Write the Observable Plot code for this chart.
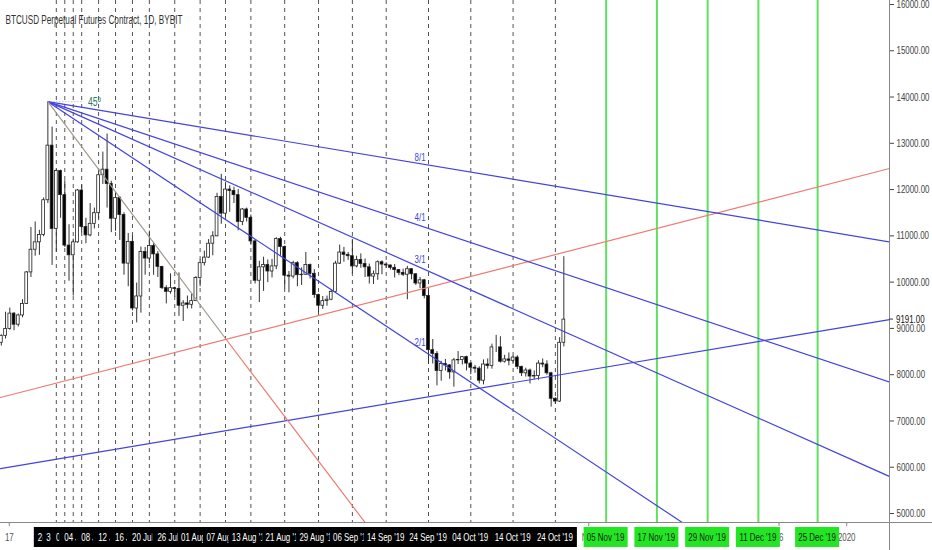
<!DOCTYPE html>
<html>
<head>
<meta charset="utf-8">
<script src="https://cdn.jsdelivr.net/npm/d3@7"></script>
<script src="https://cdn.jsdelivr.net/npm/@observablehq/plot@0.6"></script>
<style>
  body { margin: 0; background: #fff; }
  #chart svg { display: block; }
</style>
</head>
<body>
<div id="chart"></div>
<script>
const title = "BTCUSD Perpetual Futures Contract, 1D, BYBIT"
const firstDay = "2019-06-15"

// daily candles, 15 Jun -> 26 Oct 2019 (one row per month)
const opens = [
  8690, 8840, 8990, 9320, 9080, 9280, 9530, 10210, 10700, 10860, 11020, 11770, 12950, 11150, 12400, 11880,
  10790, 10580, 10860, 11980, 11190, 11010, 11260, 11490, 12310, 12430, 12120, 11370, 11820, 11450, 10400, 10870, 9430, 9690, 10650, 10510, 10780, 10600, 10330, 9870, 9790, 9870, 9850, 9490, 9540, 9510, 9590,
  10090, 10410, 10530, 10830, 10990, 11840, 11480, 12000, 11970, 11880, 11300, 11570, 11390, 10880, 10030, 10320, 10370, 10230, 10340, 10930, 10760, 10140, 10120, 10410, 10150, 10160, 10370, 10180, 9720, 9490, 9590,
  9620, 9790, 10400, 10640, 10590, 10560, 10340, 10480, 10390, 10320, 10120, 10170, 10430, 10380, 10360, 10310, 10260, 10200, 10160, 10280, 10170, 9970, 10040, 9700, 8530, 8450, 8080, 8230, 8200, 8050,
  8310, 8320, 8380, 8240, 8150, 8130, 7870, 8220, 8190, 8590, 8590, 8280, 8330, 8300, 8370, 8170, 8030, 8090, 7960, 7970, 8240, 8220, 8030, 7480, 7420, 8690
]
const highs = [
  8860, 9350, 9440, 9340, 9310, 9620, 10230, 11180, 11300, 11120, 11820, 13880, 13350, 12440, 12420, 12190,
  11240, 10930, 12000, 12100, 11380, 11700, 11600, 12380, 12810, 13200, 12180, 11930, 11850, 11500, 11050, 11000, 9980, 10760, 10750, 11100, 10840, 10660, 10340, 9920, 10180, 9890, 10200, 9600, 9700, 9750, 10120,
  10480, 10670, 10920, 11090, 11920, 12330, 12150, 12080, 12050, 12000, 11590, 11600, 11450, 10910, 10450, 10540, 10480, 10490, 10960, 10970, 10780, 10230, 10450, 10440, 10310, 10640, 10390, 10270, 9740, 9690, 9700,
  9840, 10450, 10800, 10750, 10640, 10920, 10560, 10610, 10500, 10390, 10240, 10460, 10460, 10420, 10370, 10380, 10270, 10280, 10340, 10290, 10180, 10100, 10060, 9810, 8760, 8500, 8290, 8330, 8220, 8350,
  8500, 8390, 8400, 8260, 8200, 8170, 8320, 8340, 8660, 8850, 8820, 8420, 8470, 8400, 8410, 8180, 8140, 8120, 8080, 8300, 8340, 8300, 8050, 7500, 8800, 10550
]
const lows = [
  8620, 8770, 8960, 8950, 9030, 9230, 9520, 10100, 10560, 10580, 10980, 11700, 10360, 10650, 11380, 10750,
  10020, 9700, 10840, 11070, 10830, 10980, 11150, 11360, 12110, 11600, 11070, 11100, 10900, 10150, 9900, 9380, 9120, 9330, 10150, 10400, 10150, 10100, 9840, 9530, 9740, 9670, 9260, 9150, 9420, 9420, 9580,
  9900, 10350, 10510, 10570, 10980, 11250, 11400, 11510, 11700, 11110, 11220, 11300, 10800, 9960, 9560, 9800, 9990, 10090, 10270, 10560, 9850, 9770, 10070, 9900, 9930, 10150, 10070, 9650, 9340, 9410, 9480,
  9600, 9780, 10380, 10430, 10470, 10180, 10310, 10300, 10100, 9960, 9950, 10040, 10160, 10300, 10260, 10090, 10140, 10120, 9620, 10050, 9930, 9860, 9640, 8220, 8230, 7760, 7860, 8080, 7900, 7730,
  8220, 8210, 8080, 8000, 8030, 7800, 7780, 8120, 8120, 8480, 8250, 8250, 8190, 8250, 8110, 7960, 7950, 7800, 7890, 7880, 8150, 7990, 7300, 7360, 7400, 8600
]
const closes = [
  8840, 8990, 9320, 9080, 9280, 9530, 10210, 10700, 10860, 11020, 11770, 12950, 11150, 12400, 11880, 10790,
  10580, 10860, 11980, 11190, 11010, 11260, 11490, 12310, 12430, 12120, 11370, 11820, 11450, 10400, 10870, 9430, 9690, 10650, 10510, 10780, 10600, 10330, 9870, 9790, 9870, 9850, 9490, 9540, 9510, 9590, 10090,
  10410, 10530, 10830, 10990, 11840, 11480, 12000, 11970, 11880, 11300, 11570, 11390, 10880, 10030, 10320, 10370, 10230, 10340, 10930, 10760, 10140, 10120, 10410, 10150, 10160, 10370, 10180, 9720, 9490, 9590, 9620,
  9790, 10400, 10640, 10590, 10560, 10340, 10480, 10390, 10320, 10120, 10170, 10430, 10380, 10360, 10310, 10260, 10200, 10160, 10280, 10170, 9970, 10040, 9700, 8530, 8450, 8080, 8230, 8200, 8050, 8310,
  8320, 8380, 8240, 8150, 8130, 7870, 8220, 8190, 8590, 8590, 8280, 8330, 8300, 8370, 8170, 8030, 8090, 7960, 7970, 8240, 8220, 8030, 7480, 7420, 8690, 9191
]
const lastPrice = 9191

// dashed vertical markers with their date tags, and the green cycle dates
const markerDates = ["2019-06-28", "2019-06-30", "2019-07-02", "2019-07-04", "2019-07-08", "2019-07-12", "2019-07-16",
  "2019-07-20", "2019-07-26", "2019-08-01", "2019-08-07", "2019-08-13", "2019-08-21", "2019-08-29", "2019-09-06",
  "2019-09-14", "2019-09-24", "2019-10-04", "2019-10-14", "2019-10-24"]
const cycleDates = ["2019-11-05", "2019-11-17", "2019-11-29", "2019-12-11", "2019-12-25"]
const timeTicks = ["2019-06-17", "2019-11-01", "2019-12-16", "2020-01-01"]
const timeTickText = ["17", "Nov", "16", "2020"]

// gann fan from the 26 Jun top
const fanDate = "2019-06-26"
const fanPrice = 13900
const fanNames = ["8/1", "4/1", "3/1", "2/1"]
const fanEndDates = ["2020-01-11", "2020-01-11", "2020-01-11", "2019-11-23"]
const fanEndPrices = [10870, 7840, 5800, 4806]
const fanLabelDate = "2019-09-22"
const fanLabelPrices = [12700, 11400, 10480, 8690]
// 1/1 line: grey down to the red trend line, red after it
const oneDates = ["2019-06-26", "2019-08-07", "2019-09-09"]
const onePrices = [13900, 8782, 4806]

// the two rising trend lines (left edge -> right edge)
const trendNames = ["blue", "red"]
const trendStartPrices = [5972, 7507]
const trendEndPrices = [9191, 12455]

const xStart = new Date(Date.UTC(2019, 5, 14, 19, 12))
const xEnd = new Date(Date.UTC(2020, 0, 11))
const yMin = 4806, yMax = 16086

const day0 = new Date(firstDay)
const candles = opens.map((o, i) => ({
  date: d3.utcDay.offset(day0, i),
  open: o, high: highs[i], low: lows[i], close: closes[i]
}))

const fanRows = fanNames.flatMap((n, i) => [
  {name: n, date: new Date(fanDate), price: fanPrice},
  {name: n, date: new Date(fanEndDates[i]), price: fanEndPrices[i]}
])
const oneRows = oneDates.map((d, i) => ({date: new Date(d), price: onePrices[i]}))
const trendRows = trendNames.flatMap((n, i) => [
  {name: n, date: xStart, price: trendStartPrices[i]},
  {name: n, date: xEnd, price: trendEndPrices[i]}
])

const blue = "#4343df"
const font = "'Liberation Sans', Arial, sans-serif"

let chart = Plot.plot({
  width: 932,
  height: 550,
  marginLeft: 0,
  marginRight: 43,
  marginTop: 0,
  marginBottom: 28,
  x: {type: "utc", domain: [xStart, xEnd], axis: null},
  y: {
    domain: [yMin, yMax],
    axis: "right",
    ticks: 12,
    tickSize: 4,
    tickPadding: 3,
    tickFormat: d => d.toFixed(2),
    label: null
  },
  style: {fontFamily: font, fontSize: 11, color: "#444", background: "#fff"},
  marks: [
    Plot.ruleX(markerDates.map(d => new Date(d)), {stroke: "#555", strokeDasharray: "4,4", strokeWidth: 1}),
    Plot.ruleX(cycleDates.map(d => new Date(d)), {stroke: "#5fe05f", strokeWidth: 2}),

    Plot.ruleX(candles, {x: "date", y1: "low", y2: "high", stroke: "#333", strokeWidth: 1}),
    Plot.rect(candles, {
      x1: d => d3.utcHour.offset(d.date, -8),
      x2: d => d3.utcHour.offset(d.date, 8),
      y1: d => Math.min(d.open, d.close),
      y2: d => Math.max(d.open, d.close),
      fill: d => d.close >= d.open ? "#fff" : "#000",
      stroke: "#222",
      strokeWidth: 0.8
    }),

    Plot.line(trendRows, {x: "date", y: "price", z: "name", stroke: d => d.name == "red" ? "#ef7a72" : blue, strokeWidth: 1.2}),
    Plot.line(fanRows, {x: "date", y: "price", z: "name", stroke: blue, strokeWidth: 1.2, clip: true}),
    Plot.line(oneRows.slice(0, 2), {x: "date", y: "price", stroke: "#a09a8c", strokeWidth: 1.2}),
    Plot.line(oneRows.slice(1), {x: "date", y: "price", stroke: "#ef7a72", strokeWidth: 1.2, clip: true}),
    Plot.ruleY([fanPrice], {x1: () => new Date(fanDate), x2: () => new Date("2019-07-04T12:00Z"), stroke: "#aab", strokeDasharray: "1,2"}),
    Plot.text(["45º"], {x: () => new Date("2019-07-07"), y: fanPrice, text: d => d, fill: "#2b7d6a", fontSize: 12}),

    Plot.text(fanNames, {
      x: () => new Date(fanLabelDate),
      y: (d, i) => fanLabelPrices[i],
      text: d => d,
      fill: blue,
      fontSize: 11
    }),
    Plot.text([title], {frameAnchor: "top-left", dx: 5, dy: 15, textAnchor: "start", fill: "#333", fontSize: 12})
  ]
})

d3.select('#chart').append(() => chart)

// price/time axes frame and the TradingView-style date tags
const svg = d3.select(chart)
const xs = chart.scale("x")
const ys = chart.scale("y")
const fmt = d3.utcFormat("%d %b '%y")
const g = svg.append("g").attr("font-family", font).attr("font-size", 11)

g.append("line").attr("x1", 0).attr("x2", 932).attr("y1", 522.5).attr("y2", 522.5).attr("stroke", "#888")
g.append("line").attr("x1", 889.5).attr("x2", 889.5).attr("y1", 0).attr("y2", 550).attr("stroke", "#888")

timeTicks.forEach((d, i) => {
  const x = xs.apply(new Date(d))
  g.append("line").attr("x1", x).attr("x2", x).attr("y1", 522).attr("y2", 526).attr("stroke", "#888")
  g.append("text").attr("x", x).attr("y", 541).attr("text-anchor", "middle").attr("fill", "#555").text(timeTickText[i])
})

const tag = (d, bg, fg) => {
  const x = xs.apply(new Date(d))
  g.append("rect").attr("x", x - 22).attr("y", 527).attr("width", 44).attr("height", 20).attr("fill", bg)
  g.append("text").attr("x", x).attr("y", 541).attr("text-anchor", "middle").attr("fill", fg).text(fmt(new Date(d)))
}
markerDates.forEach(d => tag(d, "#000", "#fff"))
cycleDates.forEach(d => tag(d, "#22e622", "#1a1a1a"))

const py = ys.apply(lastPrice)
g.append("rect").attr("x", 891).attr("y", py - 6).attr("width", 41).attr("height", 11).attr("fill", "#fff")
g.append("line").attr("x1", 889).attr("x2", 893).attr("y1", py).attr("y2", py).attr("stroke", "#333")
g.append("text").attr("x", 896).attr("y", py + 4).attr("text-anchor", "start").attr("fill", "#111").text(lastPrice.toFixed(2))

// the platform font is a narrow face: squeeze every label horizontally
svg.selectAll("text").each(function () {
  const len = this.getComputedTextLength()
  if (len > 0) {
    const k = this.textContent == title ? 0.68 : 0.72
    this.setAttribute("textLength", (len * k).toFixed(1))
    this.setAttribute("lengthAdjust", "spacingAndGlyphs")
  }
})
</script>
</body>
</html>
